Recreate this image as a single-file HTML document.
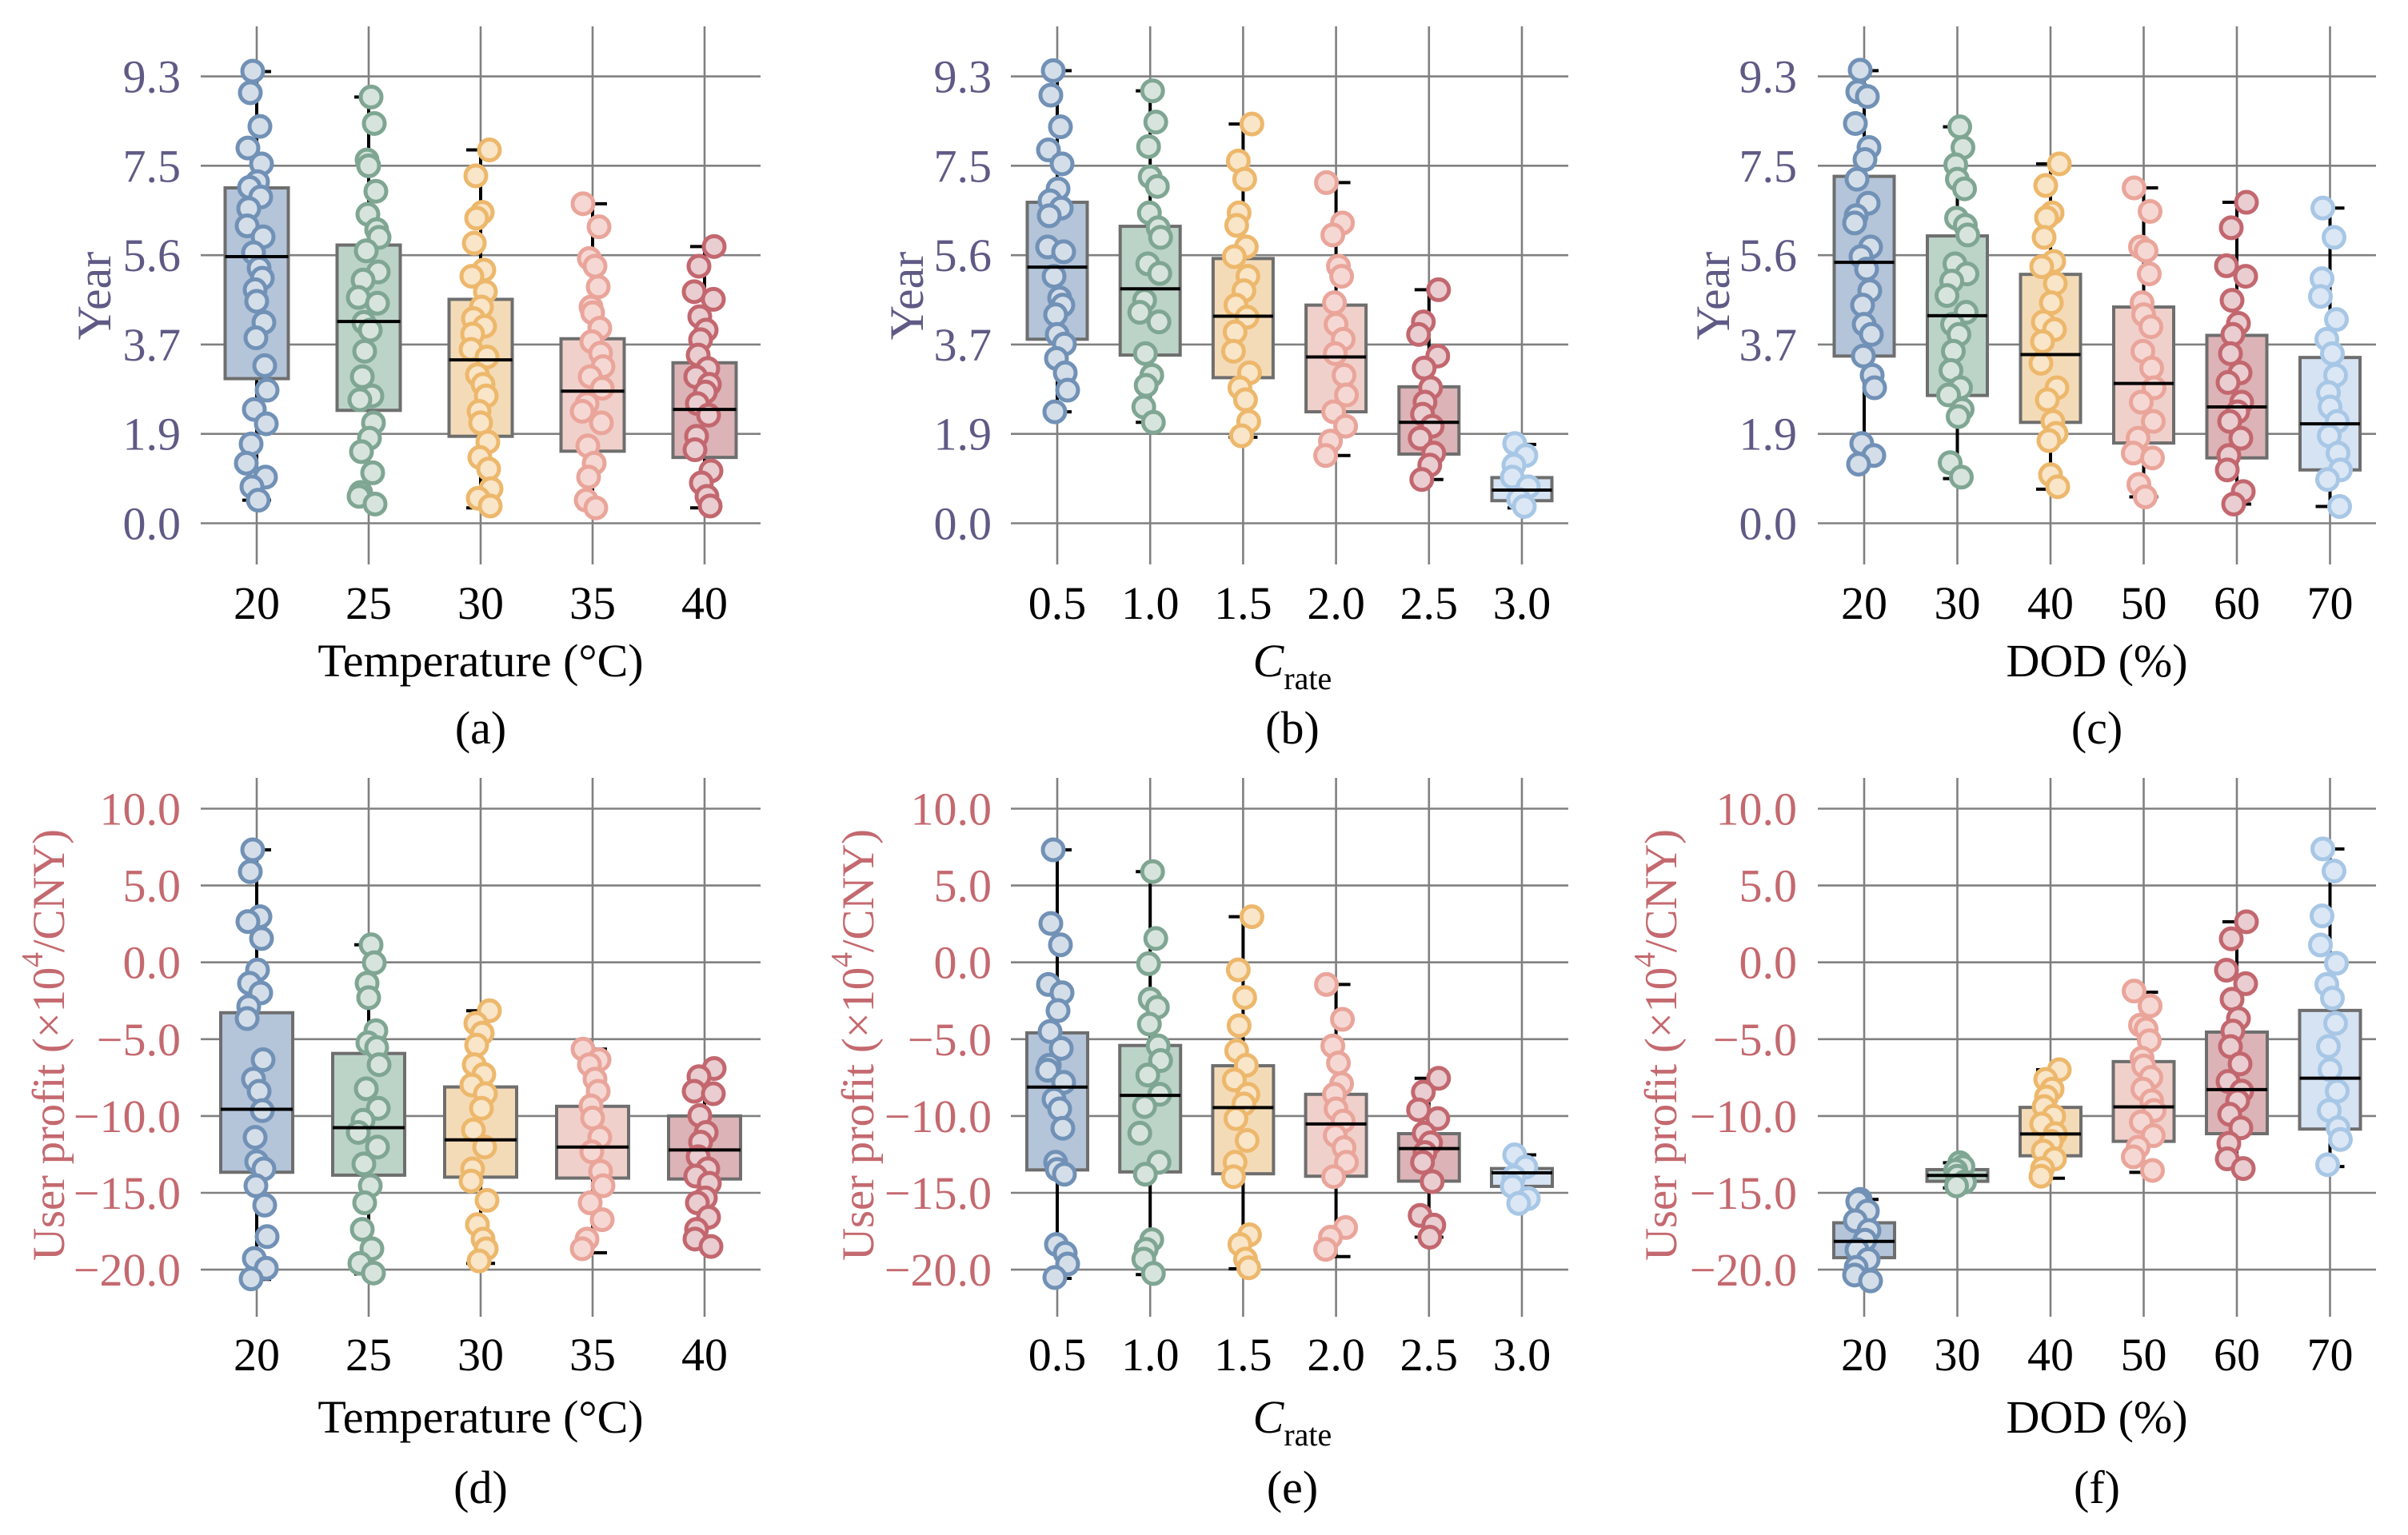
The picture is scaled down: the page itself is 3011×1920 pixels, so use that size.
<!DOCTYPE html>
<html><head><meta charset="utf-8"><style>
html,body{margin:0;padding:0;background:#fff}
svg{display:block}
text{font-family:"Liberation Serif","Times New Roman",serif}
</style></head><body>
<svg id="fig" xmlns="http://www.w3.org/2000/svg" width="3011" height="1920" viewBox="0 0 3011 1920" font-family="Liberation Serif, serif"></svg>
<script>
// ---------- DATA ----------
const aCategories=["20","25","30","35","40"];
const aValues=[
[9.41,8.96,8.26,7.81,7.48,7.11,6.99,6.79,6.55,6.19,5.96,5.63,5.31,5.10,4.86,4.62,4.18,3.86,3.28,2.77,2.37,2.07,1.65,1.25,0.96,0.76,0.48],
[8.87,8.32,7.56,7.44,6.91,6.43,6.11,5.95,5.67,5.23,5.06,4.70,4.58,4.18,4.02,3.58,3.05,2.65,2.57,2.09,1.77,1.49,1.05,0.64,0.56,0.40],
[7.77,7.23,6.47,6.35,5.83,5.27,5.14,4.82,4.50,4.26,4.10,3.94,3.62,3.46,3.09,2.89,2.65,2.33,2.09,1.69,1.37,1.13,0.72,0.52,0.36],
[6.65,6.17,5.51,5.35,4.92,4.50,4.38,4.06,3.78,3.54,3.26,3.05,2.81,2.49,2.33,2.09,1.61,1.25,0.96,0.48,0.32],
[5.76,5.35,4.82,4.66,4.30,4.02,3.82,3.50,3.22,3.05,2.89,2.73,2.49,2.25,1.81,1.53,1.09,0.84,0.56,0.36]];
const aQ1=[3.01,2.35,1.81,1.50,1.37];
const aMedian=[5.55,4.20,3.40,2.75,2.37];
const aQ3=[6.98,5.79,4.66,3.84,3.34];
const aLow=[0.48,0.40,0.32,0.31,0.32];
const aHigh=[9.40,8.87,7.77,6.65,5.76];

const bCategories=["0.5","1.0","1.5","2.0","2.5","3.0"];
const bValues=[
[9.42,8.91,8.25,7.77,7.48,6.96,6.71,6.56,6.40,5.75,5.65,5.14,4.69,4.54,4.34,3.93,3.73,3.43,3.13,2.77,2.32],
[9.00,8.35,7.84,7.21,7.01,6.46,6.15,5.95,5.40,5.20,4.64,4.39,4.19,3.53,3.08,2.87,2.42,2.10],
[8.31,7.54,7.16,6.46,6.20,5.75,5.55,5.14,4.84,4.54,4.29,3.98,3.58,3.13,2.82,2.57,2.12,1.82],
[7.09,6.25,6.00,5.35,5.14,4.59,4.14,3.83,3.53,3.08,2.67,2.32,2.02,1.71,1.41],
[4.86,4.19,3.93,3.48,3.23,2.82,2.52,2.27,2.02,1.77,1.46,1.21,0.91],
[1.66,1.41,1.21,0.96,0.76,0.50,0.35]];
const bQ1=[3.83,3.50,3.03,2.32,1.44,0.47];
const bMedian=[5.33,4.88,4.31,3.46,2.10,0.69];
const bQ3=[6.68,6.18,5.51,4.54,2.84,0.95];
const bLow=[2.32,2.10,1.79,1.41,0.91,0.32];
const bHigh=[9.42,9.00,8.31,7.09,4.86,1.64];

const cCategories=["20","30","40","50","60","70"];
const cValues=[
[9.43,8.98,8.88,8.32,7.82,7.57,7.16,6.66,6.40,6.25,5.75,5.55,5.29,4.84,4.54,4.14,3.93,3.48,3.08,2.82,1.66,1.41,1.23],
[8.25,7.82,7.46,7.16,6.96,6.35,6.20,6.00,5.40,5.19,5.04,4.74,4.39,4.14,3.93,3.58,3.18,2.82,2.67,2.37,2.22,1.26,0.96],
[7.48,7.03,6.46,6.36,5.95,5.45,5.34,4.99,4.59,4.19,4.03,3.78,3.33,2.82,2.57,2.12,1.87,1.72,1.01,0.76],
[6.98,6.49,5.75,5.67,5.19,4.59,4.34,4.09,3.58,3.23,2.82,2.52,2.12,1.77,1.46,1.36,0.81,0.55],
[6.68,6.15,5.36,5.14,4.64,4.16,3.93,3.53,3.13,2.93,2.52,2.32,2.12,1.77,1.41,1.11,0.66,0.40],
[6.56,5.95,5.09,4.72,4.24,3.83,3.53,3.08,2.72,2.42,2.12,1.82,1.46,1.11,0.91,0.35]];
const cQ1=[3.48,2.66,2.10,1.67,1.36,1.11];
const cMedian=[5.43,4.32,3.51,2.91,2.42,2.07];
const cQ3=[7.22,5.98,5.18,4.50,3.91,3.45];
const cLow=[1.23,0.93,0.71,0.55,0.40,0.35];
const cHigh=[9.42,8.25,7.48,6.98,6.68,6.56];

const dCategories=["20","25","30","35","40"];
const dValues=[
[7.32,5.90,2.97,2.65,1.55,-0.50,-1.36,-1.99,-2.87,-3.66,-6.34,-7.60,-8.39,-9.65,-11.39,-12.97,-13.44,-14.54,-15.80,-17.85,-19.27,-19.91,-20.60],
[1.14,-0.03,-1.36,-2.30,-4.45,-5.24,-5.55,-6.66,-8.23,-9.50,-10.28,-11.07,-12.02,-13.12,-14.54,-15.65,-17.38,-18.64,-19.59,-20.22],
[-3.15,-3.97,-4.61,-5.39,-6.66,-7.29,-7.98,-8.55,-9.50,-10.91,-12.02,-13.44,-14.23,-15.49,-17.07,-18.01,-18.64,-19.43],
[-5.65,-6.34,-6.66,-7.60,-8.39,-9.34,-10.13,-11.39,-12.33,-13.60,-14.54,-15.65,-16.75,-18.01,-18.64],
[-6.91,-7.44,-8.39,-8.55,-9.97,-11.07,-11.70,-12.65,-13.44,-13.91,-14.38,-15.33,-15.65,-16.59,-17.38,-18.01,-18.49]];
const dQ1=[-13.66,-13.85,-13.98,-14.04,-14.10];
const dMedian=[-9.56,-10.76,-11.55,-12.02,-12.21];
const dQ3=[-3.28,-5.93,-8.11,-9.37,-10.00];
const dLow=[-20.63,-20.28,-19.59,-18.90,-18.42];
const dHigh=[7.32,1.14,-3.15,-5.65,-6.97];

const eCategories=["0.5","1.0","1.5","2.0","2.5","3.0"];
const eValues=[
[7.32,2.53,1.14,-1.44,-1.98,-3.14,-4.50,-5.60,-6.70,-7.02,-7.81,-8.91,-9.54,-10.80,-13.01,-13.48,-13.79,-18.36,-18.93,-19.63,-20.51],
[5.90,1.55,-0.09,-2.39,-2.92,-4.02,-5.44,-6.39,-7.33,-8.59,-9.38,-11.12,-13.01,-13.79,-18.05,-18.68,-19.31,-20.25],
[2.97,-0.49,-2.29,-4.12,-5.76,-6.70,-7.65,-8.59,-9.22,-10.17,-11.59,-13.01,-13.95,-17.73,-18.36,-19.31,-19.88],
[-1.44,-3.71,-5.44,-6.55,-7.90,-8.59,-9.54,-10.33,-11.27,-12.06,-13.01,-13.95,-17.26,-17.89,-18.68],
[-7.55,-8.44,-9.60,-10.17,-11.12,-11.75,-12.38,-13.01,-14.27,-16.47,-17.10,-17.89],
[-12.53,-13.32,-13.95,-14.58,-15.37,-15.69]];
const eQ1=[-13.51,-13.64,-13.76,-13.92,-14.24,-14.58];
const eMedian=[-8.12,-8.66,-9.45,-10.52,-12.12,-13.70];
const eQ3=[-4.59,-5.41,-6.73,-8.59,-11.15,-13.42];
const eLow=[-20.57,-20.32,-19.94,-19.15,-17.89,-15.69];
const eHigh=[7.32,5.90,2.97,-1.44,-7.55,-12.53];

const fCategories=["20","30","40","50","60","70"];
const fValues=[
[-15.43,-15.56,-16.19,-16.82,-17.45,-18.08,-18.71,-19.34,-19.85,-20.35,-20.73],
[-13.04,-13.29,-13.54,-13.92,-14.30,-14.55],
[-6.99,-7.62,-8.25,-8.76,-9.39,-10.02,-10.52,-11.15,-11.65,-12.28,-12.79,-13.42,-13.92],
[-1.87,-2.83,-4.09,-4.34,-5.10,-6.23,-6.74,-7.49,-8.25,-9.01,-9.64,-10.39,-11.28,-12.03,-12.66,-13.54],
[2.64,1.53,-0.51,-1.39,-2.40,-3.66,-4.47,-5.48,-6.61,-7.75,-8.38,-9.01,-9.89,-10.77,-11.78,-12.79,-13.42],
[7.38,5.94,3.02,1.13,-0.06,-1.44,-2.33,-3.97,-5.48,-6.99,-8.38,-9.64,-10.77,-11.53,-13.17]];
const fQ1=[-19.22,-14.25,-12.59,-11.65,-11.15,-10.85];
const fMedian=[-18.16,-13.87,-11.17,-9.41,-8.28,-7.54];
const fQ3=[-16.95,-13.49,-9.44,-6.46,-4.54,-3.13];
const fLow=[-20.73,-14.68,-14.05,-13.67,-13.42,-13.29];
const fHigh=[-15.43,-13.04,-6.99,-1.95,2.64,7.38];

const topTicks=[0,1.86,3.72,5.58,7.44,9.3];
const topTickLabels=["0.0","1.9","3.7","5.6","7.5","9.3"];
const botTicks=[-20,-15,-10,-5,0,5,10];
const botTickLabels=["\u221220.0","\u221215.0","\u221210.0","\u22125.0","0.0","5.0","10.0"];

// ---------- DRAWING ----------
const NS="http://www.w3.org/2000/svg";
const svg=document.getElementById('fig');
function mk(tag,attrs,parent){const e=document.createElementNS(NS,tag);for(const k in attrs)e.setAttribute(k,attrs[k]);(parent||svg).appendChild(e);return e;}
const stroke=["#7191b6","#7fa693","#edb86c","#eaa59b","#c3676f","#a8c7e6"];
const ptFill=["#d4dee9","#d7e4dd","#f9e5c8","#f5d8d3","#e9cdd0","#dbe7f4"];
const boxFill=["#b4c4d9","#bcd3c8","#f4dbb8","#f0d0cb","#dcb3b6","#d6e3f3"];
const jit=[-5,6,-10,3,9,-3,11,-8,1,-12,7,-1,12,-6,4,-9,8,-2,10,-7,2,-11,5,-4,0,13,-13];

function yTop(v){return 654.5-v*60.1;}
function yBot(v){return 1011.5+(10-v)*19.22;}

const layouts={
 a:{x0:321,dx:140,left:251,right:951,tickR:226,bw:79,top:true,ylab:118,xc:601},
 b:{x0:1322,dx:116.2,left:1264,right:1961,tickR:1240,bw:75,top:true,ylab:1134,xc:1616},
 c:{x0:2331,dx:116.5,left:2273,right:2971,tickR:2247,bw:75,top:true,ylab:2142,xc:2622},
 d:{x0:321,dx:140,left:251,right:951,tickR:226,bw:90,top:false,ylab:61,xc:601},
 e:{x0:1322,dx:116.2,left:1264,right:1961,tickR:1240,bw:76,top:false,ylab:1073,xc:1616},
 f:{x0:2331,dx:116.5,left:2273,right:2971,tickR:2247,bw:76,top:false,ylab:2077,xc:2622}
};
const datasets={
 a:[aCategories,aValues,aQ1,aMedian,aQ3,aLow,aHigh],
 b:[bCategories,bValues,bQ1,bMedian,bQ3,bLow,bHigh],
 c:[cCategories,cValues,cQ1,cMedian,cQ3,cLow,cHigh],
 d:[dCategories,dValues,dQ1,dMedian,dQ3,dLow,dHigh],
 e:[eCategories,eValues,eQ1,eMedian,eQ3,eLow,eHigh],
 f:[fCategories,fValues,fQ1,fMedian,fQ3,fLow,fHigh]
};
const xTitles={a:'Temperature (\u00B0C)',d:'Temperature (\u00B0C)',c:'DOD (%)',f:'DOD (%)'};
const FF="Liberation Serif, serif";

for(const key of ['a','b','c','d','e','f']){
 const L=layouts[key];
 const [cats,vals,q1,med,q3,lo,hi]=datasets[key];
 const Y=L.top?yTop:yBot;
 const ticks=L.top?topTicks:botTicks;
 const tlabels=L.top?topTickLabels:botTickLabels;
 const vTop=L.top?33:973, vBot=L.top?706:1647;
 const tcol=L.top?"#5f5a85":"#c4696f";
 const g=mk('g',{'font-family':FF});
 
 
 const xc=i=>L.x0+i*L.dx;
 ticks.forEach((t,i)=>{
  const ln=mk('line',{x1:L.left,x2:L.right,y1:Y(t),y2:Y(t),stroke:'#808080','stroke-width':2.6},g);
  
  
  const tx=mk('text',{x:L.tickR,y:Y(t)+20,'text-anchor':'end','font-size':58,fill:tcol},g);
  tx.textContent=tlabels[i];
  
  
 });
 cats.forEach((c,i)=>{
  const ln=mk('line',{x1:xc(i),x2:xc(i),y1:vTop,y2:vBot,stroke:'#808080','stroke-width':2.6},g);
  
  
  const tx=mk('text',{x:xc(i),y:L.top?774:1714,'text-anchor':'middle','font-size':58,fill:'#000'},g);
  tx.textContent=c;
  
  
 });
 cats.forEach((c,i)=>{
  const x=xc(i), hw=L.bw/2;
  const wk=mk('path',{d:`M${x},${Y(hi[i])}V${Y(q3[i])}M${x},${Y(q1[i])}V${Y(lo[i])}M${x-18},${Y(hi[i])}H${x+18}M${x-18},${Y(lo[i])}H${x+18}`,stroke:'#000','stroke-width':4,fill:'none'},g);
  
  
  const bx=mk('rect',{x:x-hw,y:Y(q3[i]),width:L.bw,height:Y(q1[i])-Y(q3[i]),fill:boxFill[i],stroke:'#6e6e6e','stroke-width':4},g);
  
  
 });
 cats.forEach((c,i)=>{
  vals[i].forEach((v,j)=>{
   const p=mk('circle',{cx:xc(i)+jit[(j*7+i*3)%jit.length],cy:Y(v),r:13,fill:ptFill[i],stroke:stroke[i],'stroke-width':5},g);
   
   
  });
 });
 cats.forEach((c,i)=>{
  const x=xc(i), hw=L.bw/2;
  const m=mk('line',{x1:x-hw,x2:x+hw,y1:Y(med[i]),y2:Y(med[i]),stroke:'#000','stroke-width':4},g);
  
  
 });
 const cy=L.top?370:1307;
 const yl=mk('text',{x:L.ylab,y:cy,'text-anchor':'middle','dominant-baseline':'central','font-size':L.top?60:57,fill:tcol,transform:`rotate(-90 ${L.ylab} ${cy})`},g);
 if(L.top){yl.textContent='Year';}
 else{
  yl.setAttribute('textLength','540');
  const t1=mk('tspan',{},yl);t1.textContent='User profit (\u00D710';
  const t2=mk('tspan',{dy:-20,'font-size':38},yl);t2.textContent='4';
  const t3=mk('tspan',{dy:20},yl);t3.textContent='/CNY)';
 }
 
 
 const xly=L.top?846:1792;
 const xl=mk('text',{x:L.xc,y:xly,'text-anchor':'middle','font-size':58,fill:'#000'},g);
 if(xTitles[key]){xl.textContent=xTitles[key];}
 else{
  const s1=mk('tspan',{'font-style':'italic'},xl);s1.textContent='C';
  const s2=mk('tspan',{dy:16,'font-size':40},xl);s2.textContent='rate';
 }
 
 
 const pl=mk('text',{x:L.xc,y:L.top?930:1880,'text-anchor':'middle','font-size':58,fill:'#000'},g);
 pl.textContent='('+key+')';
 
 
}
</script>
</body></html>
